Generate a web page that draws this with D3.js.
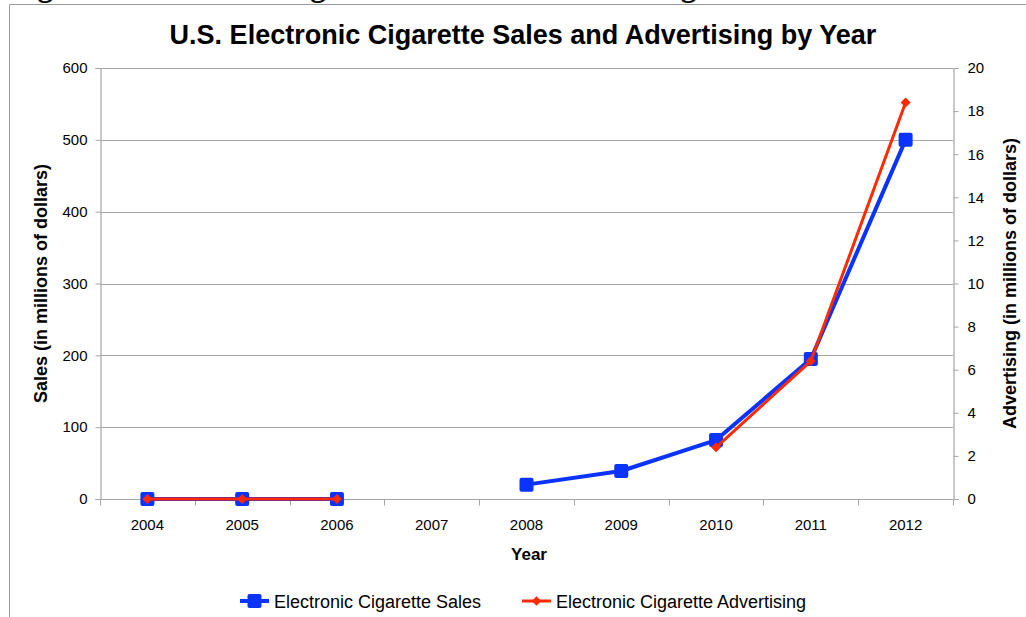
<!DOCTYPE html>
<html>
<head>
<meta charset="utf-8">
<script src="https://cdn.jsdelivr.net/npm/d3@7"></script>
<style>
  html, body { margin: 0; padding: 0; background: #fff; overflow: hidden; }
  svg { display: block; }
  text { font-family: "Liberation Sans", Arial, sans-serif; fill: #000; }
</style>
</head>
<body>
<svg id="chart" width="1026" height="617"></svg>
<script>
// Years on the category axis
const years = ["2004", "2005", "2006", "2007", "2008", "2009", "2010", "2011", "2012"];
// Sales, millions of dollars (no figure reported for 2007)
const salesValues = [0, 0, 0, null, 20, 39, 82, 195, 500];
// Advertising, millions of dollars
const adValues = [0, 0, 0, null, null, null, 2.4, 6.4, 18.4];
// Tick labels
const salesTicks = [0, 100, 200, 300, 400, 500, 600];
const adTicks = [0, 2, 4, 6, 8, 10, 12, 14, 16, 18, 20];

const svg = d3.select("#chart");
const W = 1026, H = 617;
const m = { left: 100, right: 953, top: 68, bottom: 499 };

const BLUE = "#0a33ff";
const RED = "#ff2a00";
const GRID = "#a6a6a6";

// Caption line of the page, running off the top edge
svg.append("text")
  .attr("x", 10).attr("y", -4)
  .style("font-family", "'Liberation Serif', 'Times New Roman', serif")
  .style("font-weight", "bold").style("font-size", "31px")
  .text("Figure 1. Electronic Cigarette Sales and Advertising");

// Chart frame
svg.append("path")
  .attr("d", `M9.5,${H} V4.5 H${W}`)
  .attr("fill", "none").attr("stroke", "#9a9a9a").attr("stroke-width", 1);

const x = d3.scaleBand().domain(years).range([m.left, m.right]);
const yL = d3.scaleLinear().domain([0, 600]).range([m.bottom, m.top]);
const yR = d3.scaleLinear().domain([0, 20]).range([m.bottom, m.top]);

// Horizontal gridlines
svg.append("g").selectAll("line").data(salesTicks.slice(1)).join("line")
  .attr("x1", m.left).attr("x2", m.right)
  .attr("y1", d => Math.round(yL(d)) + 0.5).attr("y2", d => Math.round(yL(d)) + 0.5)
  .attr("stroke", GRID).attr("stroke-width", 1.2);

// Left axis
const leftAxis = svg.append("g").attr("transform", `translate(${m.left + 0.5},0)`)
  .call(d3.axisLeft(yL).tickValues(salesTicks).tickSize(5).tickPadding(8));
// Right axis
const rightAxis = svg.append("g").attr("transform", `translate(${m.right + 0.5},0)`)
  .call(d3.axisRight(yR).tickValues(adTicks).tickSize(5).tickPadding(9));
[leftAxis, rightAxis].forEach(g => {
  g.select(".domain").attr("stroke", GRID).attr("stroke-width", 1.2);
  g.selectAll(".tick line").attr("stroke", GRID);
  g.selectAll(".tick text").style("font-size", "15px").style("font-family", "'Liberation Sans', Arial, sans-serif");
});

// Bottom axis: category labels centred in bands, ticks on band edges
const bottom = svg.append("g").attr("transform", `translate(0,${m.bottom + 0.5})`);
bottom.append("line").attr("x1", m.left).attr("x2", m.right)
  .attr("stroke", GRID).attr("stroke-width", 1.2);
const edges = years.map(d => x(d)).concat([m.right]);
bottom.selectAll("line.tk").data(edges).join("line").attr("class", "tk")
  .attr("x1", d => Math.round(d) + 0.5).attr("x2", d => Math.round(d) + 0.5)
  .attr("y1", 0).attr("y2", 6).attr("stroke", GRID);
bottom.selectAll("text").data(years).join("text")
  .attr("x", d => x(d) + x.bandwidth() / 2).attr("y", 30)
  .attr("text-anchor", "middle").style("font-size", "15px").text(d => d);

// Titles
svg.append("text").attr("x", 523).attr("y", 44).attr("text-anchor", "middle")
  .style("font-weight", "bold").style("font-size", "27px")
  .text("U.S. Electronic Cigarette Sales and Advertising by Year");
svg.append("text").attr("x", 529).attr("y", 560).attr("text-anchor", "middle")
  .style("font-weight", "bold").style("font-size", "17px").text("Year");
svg.append("text").attr("transform", `translate(47,${(m.top + m.bottom) / 2}) rotate(-90)`)
  .attr("text-anchor", "middle").style("font-weight", "bold").style("font-size", "18px")
  .text("Sales (in millions of dollars)");
svg.append("text").attr("transform", `translate(1016,${(m.top + m.bottom) / 2}) rotate(-90)`)
  .attr("text-anchor", "middle").style("font-weight", "bold").style("font-size", "18px")
  .text("Advertising (in millions of dollars)");

const cx = i => x(years[i]) + x.bandwidth() / 2;

// Sales series
const salesPts = salesValues.map((v, i) => ({ i, v }));
svg.append("path").datum(salesPts)
  .attr("d", d3.line().defined(d => d.v != null).x(d => cx(d.i)).y(d => yL(d.v)))
  .attr("fill", "none").attr("stroke", BLUE).attr("stroke-width", 4).attr("stroke-linejoin", "round");
svg.append("g").selectAll("rect").data(salesPts.filter(d => d.v != null)).join("rect")
  .attr("x", d => cx(d.i) - 7).attr("y", d => yL(d.v) - 7)
  .attr("width", 14).attr("height", 14).attr("rx", 2)
  .attr("fill", BLUE);

// Advertising series
const adPts = adValues.map((v, i) => ({ i, v }));
svg.append("path").datum(adPts)
  .attr("d", d3.line().defined(d => d.v != null).x(d => cx(d.i)).y(d => yR(d.v)))
  .attr("fill", "none").attr("stroke", RED).attr("stroke-width", 3).attr("stroke-linejoin", "round");
svg.append("g").selectAll("path").data(adPts.filter(d => d.v != null)).join("path")
  .attr("transform", d => `translate(${cx(d.i)},${yR(d.v)}) rotate(45)`)
  .attr("d", d3.symbol().type(d3.symbolSquare).size(50))
  .attr("fill", RED);

// Legend
const legend = [
  { name: "Electronic Cigarette Sales", color: BLUE, x: 240, sym: "square" },
  { name: "Electronic Cigarette Advertising", color: RED, x: 522, sym: "diamond" }
];
const ly = 601;
legend.forEach(l => {
  const g = svg.append("g");
  g.append("line").attr("x1", l.x).attr("x2", l.x + 29).attr("y1", ly).attr("y2", ly)
    .attr("stroke", l.color).attr("stroke-width", l.sym === "square" ? 4 : 3);
  if (l.sym === "square") {
    g.append("rect").attr("x", l.x + 14.5 - 7).attr("y", ly - 7).attr("width", 14).attr("height", 14)
      .attr("rx", 2).attr("fill", l.color);
  } else {
    g.append("path").attr("transform", `translate(${l.x + 14.5},${ly}) rotate(45)`)
      .attr("d", d3.symbol().type(d3.symbolSquare).size(44)).attr("fill", l.color);
  }
  g.append("text").attr("x", l.x + 34).attr("y", ly + 7).style("font-size", "18px").text(l.name);
});
</script>
</body>
</html>
